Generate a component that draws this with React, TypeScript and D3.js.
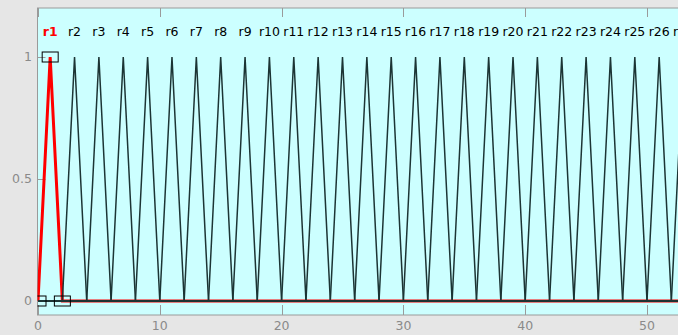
import React from 'react';
import * as d3 from 'd3';

// series names and their peak positions (each series is a triangle 0 -> 1 -> 0)
const seriesLabels = [
  'r1', 'r2', 'r3', 'r4', 'r5', 'r6', 'r7', 'r8', 'r9', 'r10', 'r11', 'r12', 'r13', 'r14',
  'r15', 'r16', 'r17', 'r18', 'r19', 'r20', 'r21', 'r22', 'r23', 'r24', 'r25', 'r26', 'r27',
];
const peakX = [1, 3, 5, 7, 9, 11, 13, 15, 17, 19, 21, 23, 25, 27, 29, 31, 33, 35, 37, 39, 41, 43, 45, 47, 49, 51, 53];
const peakY = [1, 1, 1, 1, 1, 1, 1, 1, 1, 1, 1, 1, 1, 1, 1, 1, 1, 1, 1, 1, 1, 1, 1, 1, 1, 1, 1];
const halfWidth = 1;
const xDomainMax = 54;
const selected = 'r1';

const xTicks = [0, 10, 20, 30, 40, 50];
const yTicks = [0, 0.5, 1];

const W = 678;
const H = 335;
const panel = { left: 37.5, top: 8, right: 700, bottom: 315 };

export default function App() {
  const x = d3.scaleLinear().domain([0, 10]).range([38, 159.8]);
  const y = d3.scaleLinear().domain([0, 1]).range([301, 57]);
  const line = d3.line<[number, number]>().x(d => x(d[0])).y(d => y(d[1]));

  const seriesPoints = seriesLabels.map((name, i) => {
    const p = peakX[i];
    const pts: [number, number][] = [];
    if (p - halfWidth > 0) pts.push([0, 0]);
    pts.push([p - halfWidth, 0], [p, peakY[i]], [p + halfWidth, 0], [xDomainMax, 0]);
    return { name, pts, verts: [[p - halfWidth, 0], [p, peakY[i]], [p + halfWidth, 0]] as [number, number][] };
  });
  const sel = seriesPoints.find(s => s.name === selected)!;
  const others = seriesPoints.filter(s => s.name !== selected);

  const font = '"DejaVu Sans", Arial, sans-serif';
  const grey = '#8a8a8a';

  return (
    <svg width={W} height={H} style={{ position: 'absolute', left: 0, top: 0, display: 'block' }}>
      <defs>
        <clipPath id="plotClip">
          <rect x={panel.left} y={panel.top} width={panel.right - panel.left} height={panel.bottom - panel.top} />
        </clipPath>
      </defs>
      <rect x={0} y={0} width={W} height={H} fill="#e6e6e6" />
      <rect x={panel.left} y={panel.top} width={panel.right - panel.left} height={panel.bottom - panel.top}
        fill="#ccffff" stroke="#9a9a9a" strokeWidth={1} />

      {/* ticks */}
      <g stroke="#9a9a9a" strokeWidth={1}>
        {xTicks.map(t => (
          <g key={t}>
            <line x1={Math.round(x(t)) + 0.5} x2={Math.round(x(t)) + 0.5} y1={panel.top} y2={panel.top + 9} />
            <line x1={Math.round(x(t)) + 0.5} x2={Math.round(x(t)) + 0.5} y1={panel.bottom} y2={panel.bottom - 10} />
          </g>
        ))}
        {yTicks.map(t => (
          <line key={t} x1={panel.left} x2={panel.left + 8} y1={Math.round(y(t)) + 0.5} y2={Math.round(y(t)) + 0.5} />
        ))}
      </g>

      <g clipPath="url(#plotClip)">
        <path d={line(sel.pts) || ''} fill="none" stroke="#ff0000" strokeWidth={3} />
        {others.map(s => (
          <path key={s.name} d={line(s.pts) || ''} fill="none" stroke="#1c3434" strokeWidth={1.5} />
        ))}
        <path d={line(sel.pts.slice(-2)) || ''} fill="none" stroke="#1c3434" strokeWidth={1.5} />
        {sel.verts.map((v, i) => (
          <rect key={i} x={x(v[0]) - 8} y={y(v[1]) - 5} width={16} height={10}
            fill="none" stroke="#000" strokeWidth={1} />
        ))}
        {seriesPoints.map((s, i) => (
          <text key={s.name} x={x(peakX[i])} y={32} dy="0.35em" textAnchor="middle"
            fontFamily={font} fontSize={12.5}
            fill={s.name === selected ? '#ff0000' : '#000'}
            fontWeight={s.name === selected ? 'bold' : 'normal'}>
            {s.name}
          </text>
        ))}
      </g>

      {/* tick labels */}
      {xTicks.map(t => (
        <text key={t} x={x(t)} y={326} dy="0.35em" textAnchor="middle" fontFamily={font} fontSize={12.5} fill={grey}>
          {t}
        </text>
      ))}
      {yTicks.map(t => (
        <text key={t} x={32} y={y(t)} dy="0.35em" textAnchor="end" fontFamily={font} fontSize={12.5} fill={grey}>
          {t}
        </text>
      ))}
    </svg>
  );
}
